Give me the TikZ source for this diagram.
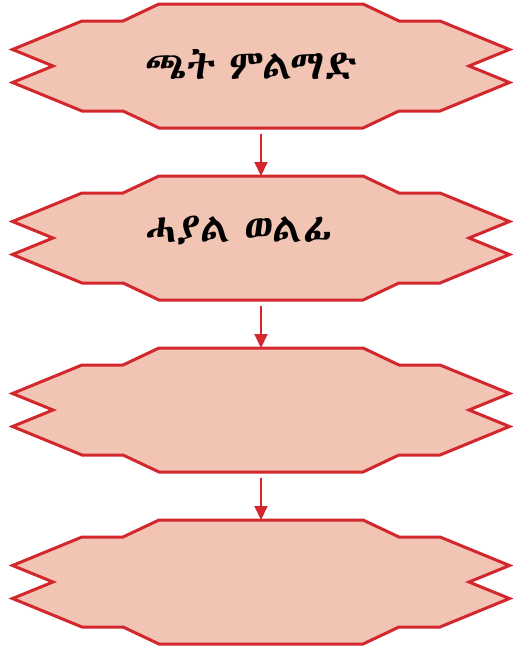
\documentclass[tikz,border=0pt]{standalone}
\usepackage{fontspec}
\usetikzlibrary{arrows.meta}
\IfFontExistsTF{Abyssinica SIL}{\newfontfamily\ethfont[WordSpace=0.7]{Abyssinica SIL}}{%
  \IfFontExistsTF{FreeSerif.otf}{\newfontfamily\ethfont[WordSpace=0.7]{FreeSerif.otf}}{%
    \IfFontExistsTF{Noto Sans Ethiopic}{\newfontfamily\ethfont{Noto Sans Ethiopic}}{\newfontfamily\ethfont{Noto Sans}}}}
\definecolor{boxfill}{RGB}{242,196,179}
\definecolor{boxline}{RGB}{211,39,46}
\tikzset{
  box/.style={draw=none, minimum width=497pt, minimum height=124pt, inner sep=0pt, outer sep=0pt},
  outline/.style={draw=boxline, fill=boxfill, line width=3pt, line join=miter},
  arr/.style={draw=boxline, line width=2pt, -{Triangle[length=14pt,width=13pt]}, shorten <=6pt},
  lbl/.style={anchor=base west, inner sep=0pt, font=\ethfont\fontsize{41}{48}\selectfont}
}
\newcommand{\hexout}[1]{%
  \draw[outline] ([shift={(-102,62)}]#1.center) -- ([shift={(102,62)}]#1.center)
    -- ([shift={(138,45)}]#1.center) -- ([shift={(179,45)}]#1.center)
    -- ([shift={(248.5,16.5)}]#1.center) -- ([shift={(208,0)}]#1.center)
    -- ([shift={(248.5,-16.5)}]#1.center) -- ([shift={(179,-45)}]#1.center)
    -- ([shift={(138,-45)}]#1.center) -- ([shift={(102,-62)}]#1.center)
    -- ([shift={(-102,-62)}]#1.center) -- ([shift={(-138,-45)}]#1.center)
    -- ([shift={(-179,-45)}]#1.center) -- ([shift={(-248.5,-16.5)}]#1.center)
    -- ([shift={(-208,0)}]#1.center) -- ([shift={(-248.5,16.5)}]#1.center)
    -- ([shift={(-179,45)}]#1.center) -- ([shift={(-138,45)}]#1.center)
    -- cycle;}
\begin{document}
\begin{tikzpicture}[x=1pt,y=1pt]
\useasboundingbox (0,0) rectangle (514,-653);
\node[box] (n1) at (261,-66) {};
\node[box] (n2) at (261,-238) {};
\node[box] (n3) at (261,-410) {};
\node[box] (n4) at (261,-582) {};
\hexout{n1}
\hexout{n2}
\hexout{n3}
\hexout{n4}
\node[lbl] (t1) at (145,-79) {ጫት ምልማድ};
\node[lbl] (t2) at (145,-242) {ሓያል ወልፊ};
\draw[arr] (n1.south) -- (n2.north);
\draw[arr] (n2.south) -- (n3.north);
\draw[arr] (n3.south) -- (n4.north);
\end{tikzpicture}
\end{document}
